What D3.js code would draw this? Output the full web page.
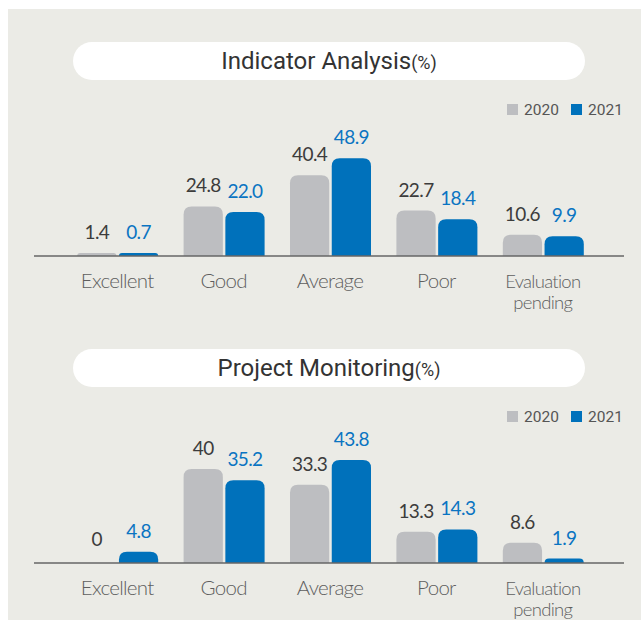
<!DOCTYPE html>
<html>
<head>
<meta charset="utf-8">
<script src="https://cdn.jsdelivr.net/npm/d3@7"></script>
<style>
  body { margin: 0; background: #fff; }
  svg { display: block; }
</style>
</head>
<body>
<div id="chart"></div>
<script>
// chart values
const categories = ["Excellent", "Good", "Average", "Poor", "Evaluation pending"];
const years = ["2020", "2021"];
const indicator2020 = [1.4, 24.8, 40.4, 22.7, 10.6];
const indicator2021 = [0.7, 22.0, 48.9, 18.4, 9.9];
const monitoring2020 = [0, 40, 33.3, 13.3, 8.6];
const monitoring2021 = [4.8, 35.2, 43.8, 14.3, 1.9];

const width = 641, height = 620;
const colors = { "2020": "#bdbec1", "2021": "#0071bb" };
const labelColors = { "2020": "#3c3c3c", "2021": "#0a74c2" };

const svg = d3.select("#chart").append("svg")
  .attr("width", width)
  .attr("height", height);

// gray panel
svg.append("rect")
  .attr("x", 8).attr("y", 9)
  .attr("width", width - 8).attr("height", height - 9)
  .attr("fill", "#ebebe6");

const x = d3.scaleBand().domain(categories).range([64, 596]);
const xSub = d3.scaleBand().domain(years).range([-40, 41]).paddingInner(0.06);

// bar with rounded top corners
function topRounded(x0, y0, w, h, r) {
  r = Math.min(r, h, w / 2);
  return "M" + x0 + "," + (y0 + h) +
    "V" + (y0 + r) +
    "Q" + x0 + "," + y0 + " " + (x0 + r) + "," + y0 +
    "H" + (x0 + w - r) +
    "Q" + (x0 + w) + "," + y0 + " " + (x0 + w) + "," + (y0 + r) +
    "V" + (y0 + h) + "Z";
}

function drawPanel(top, title, v2020, v2021, pxPerUnit, fmt) {
  const g = svg.append("g").attr("transform", "translate(0," + top + ")");

  // title pill
  g.append("rect")
    .attr("x", 73).attr("y", 42)
    .attr("width", 512).attr("height", 38)
    .attr("rx", 19)
    .attr("fill", "#fff");
  const t = g.append("text")
    .attr("x", 329).attr("y", 69)
    .attr("text-anchor", "middle")
    .attr("font-family", "Roboto, 'Noto Sans', sans-serif")
    .attr("fill", "#333");
  t.append("tspan").attr("font-size", 24).attr("font-weight", 400).text(title);
  t.append("tspan").attr("font-size", 18).attr("font-weight", 400).text("(%)");

  // legend
  const legendX = [507, 571];
  years.forEach(function(yr, i) {
    g.append("rect")
      .attr("x", legendX[i]).attr("y", 104)
      .attr("width", 11).attr("height", 11)
      .attr("fill", colors[yr]);
    g.append("text")
      .attr("x", legendX[i] + 17).attr("y", 115)
      .attr("font-family", "Roboto, sans-serif")
      .attr("font-size", 15.5)
      .attr("fill", "#555")
      .text(yr);
  });

  const baseY = 256;
  const y = d3.scaleLinear().domain([0, 50]).range([baseY, baseY - 50 * pxPerUnit]);

  const rows = categories.map(function(c, i) {
    return { cat: c, values: [{ yr: "2020", v: v2020[i] }, { yr: "2021", v: v2021[i] }] };
  });

  const groups = g.selectAll("g.grp")
    .data(rows)
    .join("g")
    .attr("class", "grp")
    .attr("transform", function(d) { return "translate(" + (x(d.cat) + x.bandwidth() / 2) + ",0)"; });

  groups.selectAll("path")
    .data(function(d) { return d.values.filter(function(e) { return e.v > 0; }); })
    .join("path")
    .attr("d", function(d) {
      const h = Math.max(baseY - y(d.v), 3);
      return topRounded(xSub(d.yr), baseY - h, xSub.bandwidth(), h, 8);
    })
    .attr("fill", function(d) { return colors[d.yr]; });

  groups.selectAll("text.val")
    .data(function(d) { return d.values; })
    .join("text")
    .attr("class", "val")
    .attr("x", function(d) { return xSub(d.yr) + xSub.bandwidth() / 2; })
    .attr("y", function(d) { return Math.min(y(d.v), baseY - 3) - 14; })
    .attr("text-anchor", "middle")
    .attr("font-family", "Lato, 'Noto Sans', sans-serif")
    .attr("font-size", 19)
    .attr("letter-spacing", -0.6)
    .attr("fill", function(d) { return labelColors[d.yr]; })
    .text(function(d) { return fmt(d.v); });

  // baseline
  g.append("line")
    .attr("x1", 34).attr("x2", 624)
    .attr("y1", baseY).attr("y2", baseY)
    .attr("stroke", "#666")
    .attr("stroke-width", 1.5);

  // category labels
  const cl = groups.append("text")
    .attr("text-anchor", "middle")
    .attr("y", 288)
    .attr("font-family", "Lato, 'Noto Sans', sans-serif")
    .attr("font-weight", 300)
    .attr("font-size", function(d) { return d.cat === "Evaluation pending" ? 18.5 : 20.5; })
    .attr("letter-spacing", -0.7)
    .attr("fill", "#5e5e5e");
  cl.each(function(d) {
    const words = d.cat === "Evaluation pending" ? ["Evaluation", "pending"] : [d.cat];
    const el = d3.select(this);
    words.forEach(function(w, i) {
      el.append("tspan").attr("x", 0).attr("dy", i === 0 ? 0 : 21).text(w);
    });
  });
}

drawPanel(0, "Indicator Analysis", indicator2020, indicator2021, 2.0, d3.format(".1f"));
drawPanel(307, "Project Monitoring", monitoring2020, monitoring2021, 2.35, function(v) { return String(v); });
</script>
</body>
</html>
